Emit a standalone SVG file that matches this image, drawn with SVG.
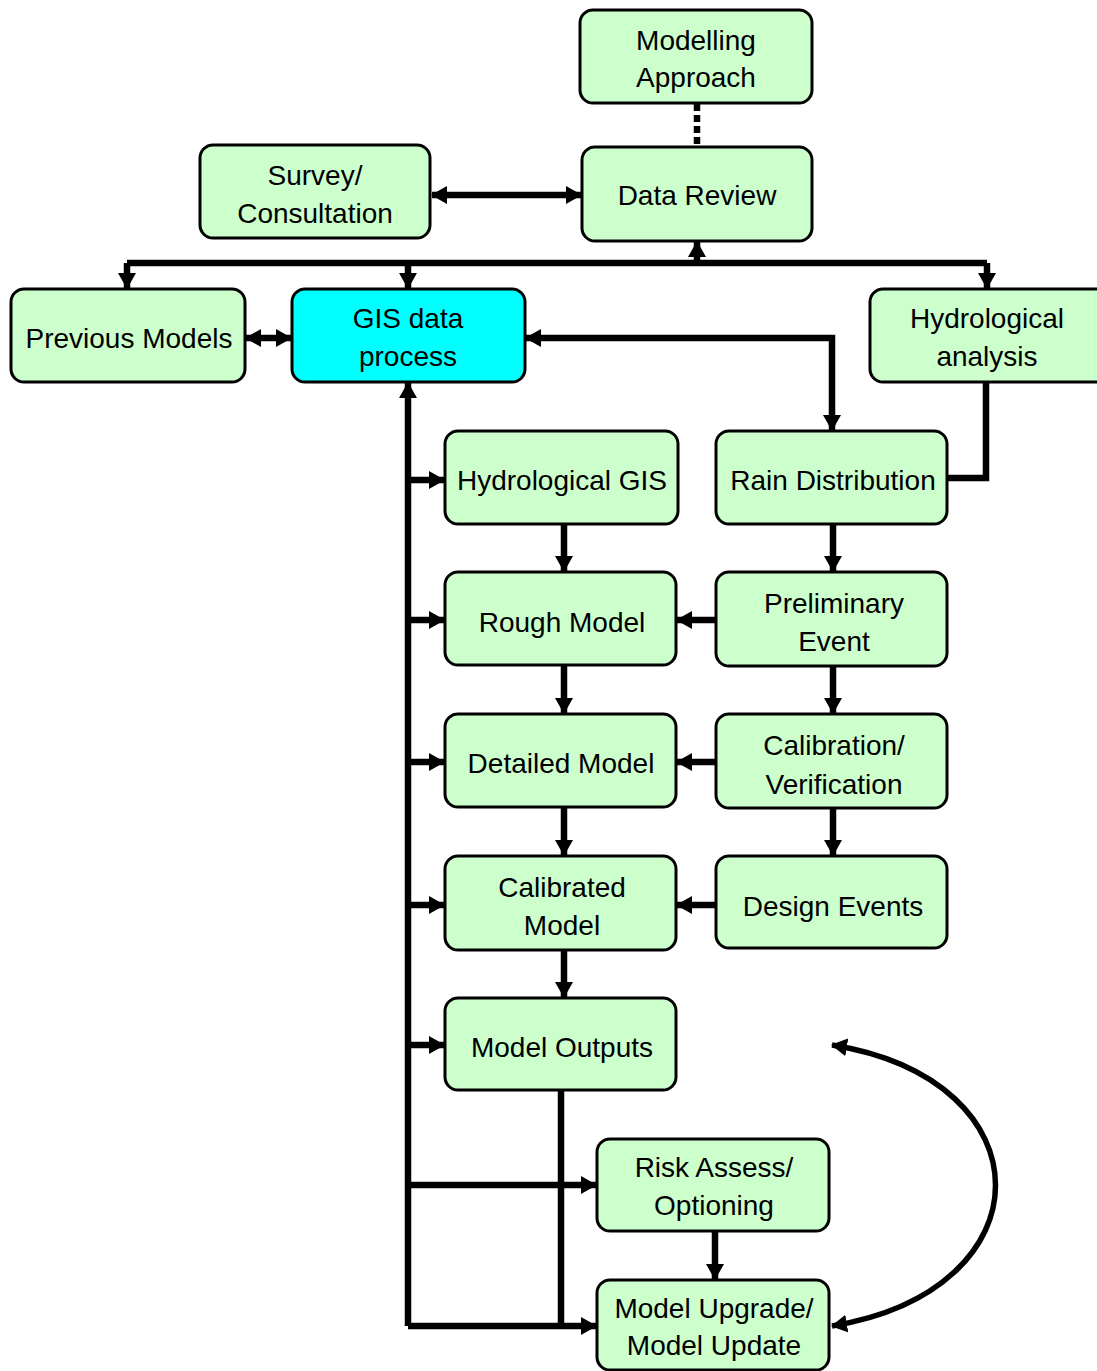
<svg xmlns="http://www.w3.org/2000/svg" width="1097" height="1371" viewBox="0 0 1097 1371">
<style>
.box{fill:#CCFFCC;stroke:#000;stroke-width:3}
.cyan{fill:#00FFFF}
.t{font-family:"Liberation Sans",Arial,sans-serif;font-size:28px;fill:#000;text-anchor:middle}
.c{fill:none;stroke:#000;stroke-width:6.5}
.a{marker-end:url(#ah)}
.ab{marker-start:url(#ah);marker-end:url(#ah)}
</style>
<defs>
<marker id="ah" markerUnits="userSpaceOnUse" markerWidth="18" markerHeight="20" refX="15" refY="10" orient="auto-start-reverse">
<path d="M0,1 L16,10 L0,19 z" fill="#000"/>
</marker>
</defs>
<rect width="1097" height="1371" fill="#fff"/>
<g id="connectors">
<line class="c" x1="697" y1="104" x2="697" y2="146" stroke-dasharray="7,4"/>
<line class="c ab" x1="432" y1="195" x2="581" y2="195"/>
<polyline class="c" points="127,263 987,263"/>
<line class="c a" x1="697" y1="263" x2="697" y2="242"/>
<line class="c a" x1="127" y1="263" x2="127" y2="288"/>
<line class="c a" x1="408" y1="263" x2="408" y2="288"/>
<line class="c a" x1="987" y1="263" x2="987" y2="288"/>
<line class="c ab" x1="246" y1="338" x2="291" y2="338"/>
<polyline class="c ab" points="832,430 832,338 526,338"/>
<polyline class="c" points="986,382 986,478 948,478"/>
<polyline class="c a" points="408,1326 408,383"/>
<polyline class="c a" points="408,1326 596,1326"/>
<line class="c a" x1="408" y1="480" x2="444" y2="480"/>
<line class="c a" x1="408" y1="620" x2="444" y2="620"/>
<line class="c a" x1="408" y1="762" x2="444" y2="762"/>
<line class="c a" x1="408" y1="905" x2="444" y2="905"/>
<line class="c a" x1="408" y1="1045" x2="444" y2="1045"/>
<line class="c a" x1="408" y1="1185" x2="596" y2="1185"/>
<line class="c" x1="561" y1="1091" x2="561" y2="1326"/>
<line class="c a" x1="564" y1="525" x2="564" y2="571"/>
<line class="c a" x1="564" y1="666" x2="564" y2="713"/>
<line class="c a" x1="564" y1="808" x2="564" y2="855"/>
<line class="c a" x1="564" y1="951" x2="564" y2="997"/>
<line class="c a" x1="833" y1="525" x2="833" y2="571"/>
<line class="c a" x1="833" y1="667" x2="833" y2="713"/>
<line class="c a" x1="833" y1="809" x2="833" y2="855"/>
<line class="c a" x1="715" y1="620" x2="677" y2="620"/>
<line class="c a" x1="715" y1="762" x2="677" y2="762"/>
<line class="c a" x1="715" y1="905" x2="677" y2="905"/>
<line class="c a" x1="715" y1="1232" x2="715" y2="1279"/>
<path class="c ab" style="stroke-width:5.5" d="M832,1045 C1050,1080 1050,1290 832,1326"/>
</g>
<g id="modelling-approach"><rect class="box" x="580" y="10" width="232" height="93" rx="13"/><text class="t" x="696" y="50">Modelling</text><text class="t" x="696" y="87">Approach</text></g>
<g id="data-review"><rect class="box" x="582" y="147" width="230" height="94" rx="13"/><text class="t" x="697" y="205">Data Review</text></g>
<g id="survey"><rect class="box" x="200" y="145" width="230" height="93" rx="13"/><text class="t" x="315" y="185">Survey/</text><text class="t" x="315" y="223">Consultation</text></g>
<g id="previous-models"><rect class="box" x="11" y="289" width="234" height="93" rx="13"/><text class="t" x="129" y="348">Previous Models</text></g>
<g id="gis-data-process"><rect class="box cyan" x="292" y="289" width="233" height="93" rx="13"/><text class="t" x="408" y="328">GIS data</text><text class="t" x="408" y="366">process</text></g>
<g id="hydrological-analysis"><rect class="box" x="870" y="289" width="240" height="93" rx="13"/><text class="t" x="987" y="328">Hydrological</text><text class="t" x="987" y="366">analysis</text></g>
<g id="hydrological-gis"><rect class="box" x="445" y="431" width="233" height="93" rx="13"/><text class="t" x="562" y="490">Hydrological GIS</text></g>
<g id="rain-distribution"><rect class="box" x="716" y="431" width="231" height="93" rx="13"/><text class="t" x="833" y="490">Rain Distribution</text></g>
<g id="rough-model"><rect class="box" x="445" y="572" width="231" height="93" rx="13"/><text class="t" x="562" y="632">Rough Model</text></g>
<g id="preliminary-event"><rect class="box" x="716" y="572" width="231" height="94" rx="13"/><text class="t" x="834" y="613">Preliminary</text><text class="t" x="834" y="651">Event</text></g>
<g id="detailed-model"><rect class="box" x="445" y="714" width="231" height="93" rx="13"/><text class="t" x="561" y="773">Detailed Model</text></g>
<g id="calibration-verification"><rect class="box" x="716" y="714" width="231" height="94" rx="13"/><text class="t" x="834" y="755">Calibration/</text><text class="t" x="834" y="794">Verification</text></g>
<g id="calibrated-model"><rect class="box" x="445" y="856" width="231" height="94" rx="13"/><text class="t" x="562" y="897">Calibrated</text><text class="t" x="562" y="935">Model</text></g>
<g id="design-events"><rect class="box" x="716" y="856" width="231" height="92" rx="13"/><text class="t" x="833" y="916">Design Events</text></g>
<g id="model-outputs"><rect class="box" x="445" y="998" width="231" height="92" rx="13"/><text class="t" x="562" y="1057">Model Outputs</text></g>
<g id="risk-assess"><rect class="box" x="597" y="1139" width="232" height="92" rx="13"/><text class="t" x="714" y="1177">Risk Assess/</text><text class="t" x="714" y="1215">Optioning</text></g>
<g id="model-upgrade"><rect class="box" x="597" y="1280" width="232" height="90" rx="13"/><text class="t" x="714" y="1318">Model Upgrade/</text><text class="t" x="714" y="1355">Model Update</text></g>
</svg>
